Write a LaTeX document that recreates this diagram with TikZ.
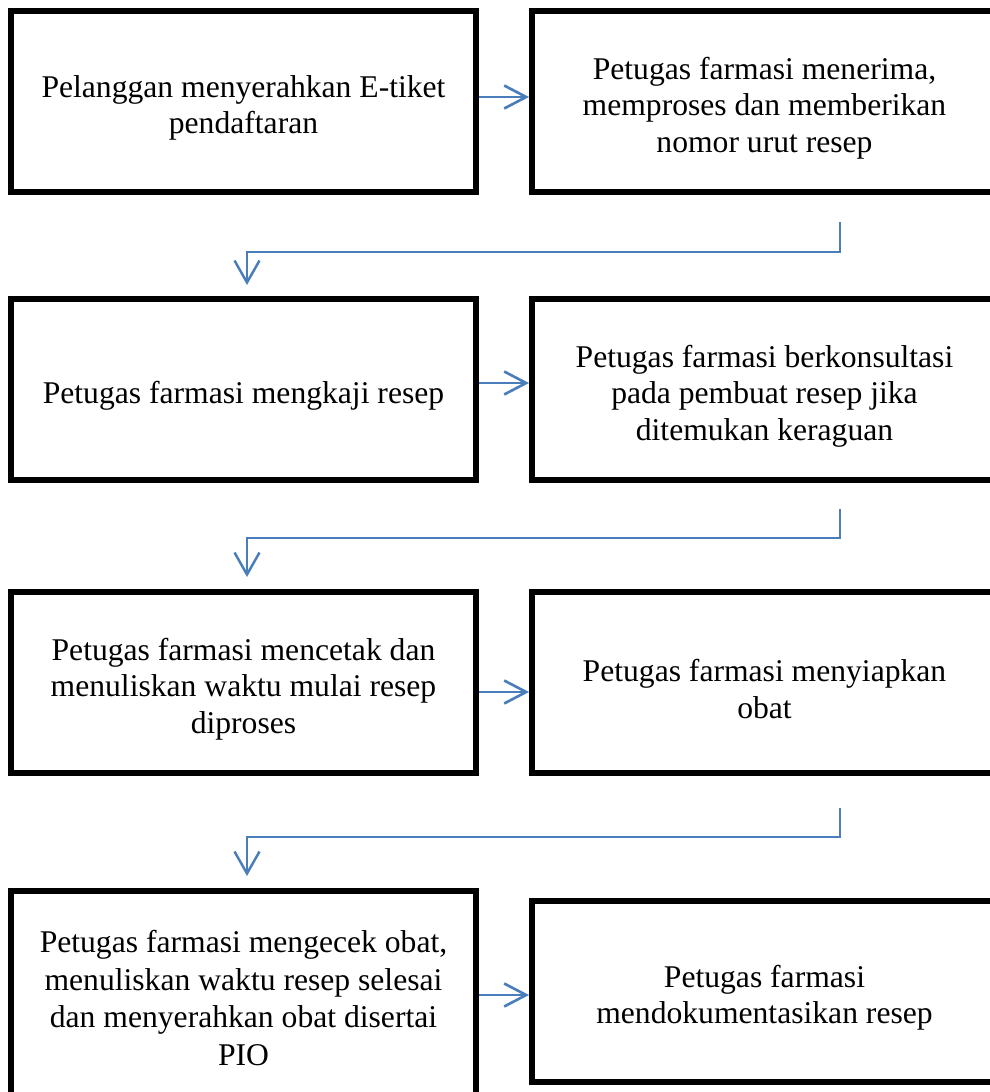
\documentclass[tikz,border=0pt]{standalone}
\usepackage{fontspec}
\setmainfont{Liberation Serif}
\usepackage{tikz}
\usetikzlibrary{arrows.meta}
\usetikzlibrary{positioning}
\usetikzlibrary{calc}
\definecolor{flowblue}{RGB}{74,126,187}
\tikzstyle{frame} = [rectangle, draw=black, line width=0.12cm, minimum width=9.3cm, minimum height=3.64cm, inner sep=0pt, text width=9.1cm, align=flush center, font=\fontsize{18}{20.7}\selectfont]
\tikzstyle{box} = [frame, execute at begin node={\rule{0pt}{20pt}}]
\tikzstyle{arrow} = [draw=flowblue, line width=1.5pt, -{Straight Barb[length=0.44cm, width=0.46cm, line width=1.5pt]}]
\tikzstyle{elbow} = [draw=flowblue, line width=1.1pt, -{Straight Barb[length=0.44cm, width=0.5cm, line width=1.4pt]}]

\begin{document}
\begin{tikzpicture}[x=0.02cm, y=-0.02cm]

  \useasboundingbox (0,0) rectangle (990,1092);
  \clip (0,0) rectangle (990,1092);

  % first row
  \node[box] (l1) at (243.5,101.5) {Pelanggan menyerahkan E-tiket\\pendaftaran};
  \node[box] (r1) at (764.5,101.5) {Petugas farmasi menerima,\\memproses dan memberikan\\nomor urut resep};

  % second row
  \node[box] (l2) at (243.5,389.5) {Petugas farmasi mengkaji resep};
  \node[box] (r2) at (764.5,389.5) {Petugas farmasi berkonsultasi\\pada pembuat resep jika\\ditemukan keraguan};

  % third row
  \node[box] (l3) at (243.5,682.5) {Petugas farmasi mencetak dan\\menuliskan waktu mulai resep\\diproses};
  \node[box] (r3) at (764.5,682.5) {Petugas farmasi menyiapkan\\obat};

  % last row
  \node[frame, minimum height=4.28cm, font=\fontsize{18}{21.6}\selectfont] (l4) at (243.5,998) {Petugas farmasi mengecek obat,\\menuliskan waktu resep selesai\\dan menyerahkan obat disertai\\PIO};
  \node[box] (r4) at (764.5,991.5) {Petugas farmasi\\mendokumentasikan resep};

  \draw[arrow] ([yshift=0.09cm]l1.east) -- ([yshift=0.09cm]r1.west);
  \draw[arrow] ([yshift=0.13cm]l2.east) -- ([yshift=0.13cm]r2.west);
  \draw[arrow] ([yshift=-0.19cm]l3.east) -- ([yshift=-0.19cm]r3.west);
  \draw[arrow] ([yshift=-0.07cm]l4.east |- r4) -- ([yshift=-0.07cm]r4.west);

  \coordinate (a1) at (840,222);
  \coordinate (b1) at (247,285);
  \draw[elbow] (a1) -- ++(0,30) -| (b1);

  \coordinate (a2) at (840,509);
  \coordinate (b2) at (247,577);
  \draw[elbow] (a2) -- ++(0,29) -| (b2);

  \coordinate (a3) at (840,808);
  \coordinate (b3) at (247,876);
  \draw[elbow] (a3) -- ++(0,29) -| (b3);

\end{tikzpicture}
\end{document}
